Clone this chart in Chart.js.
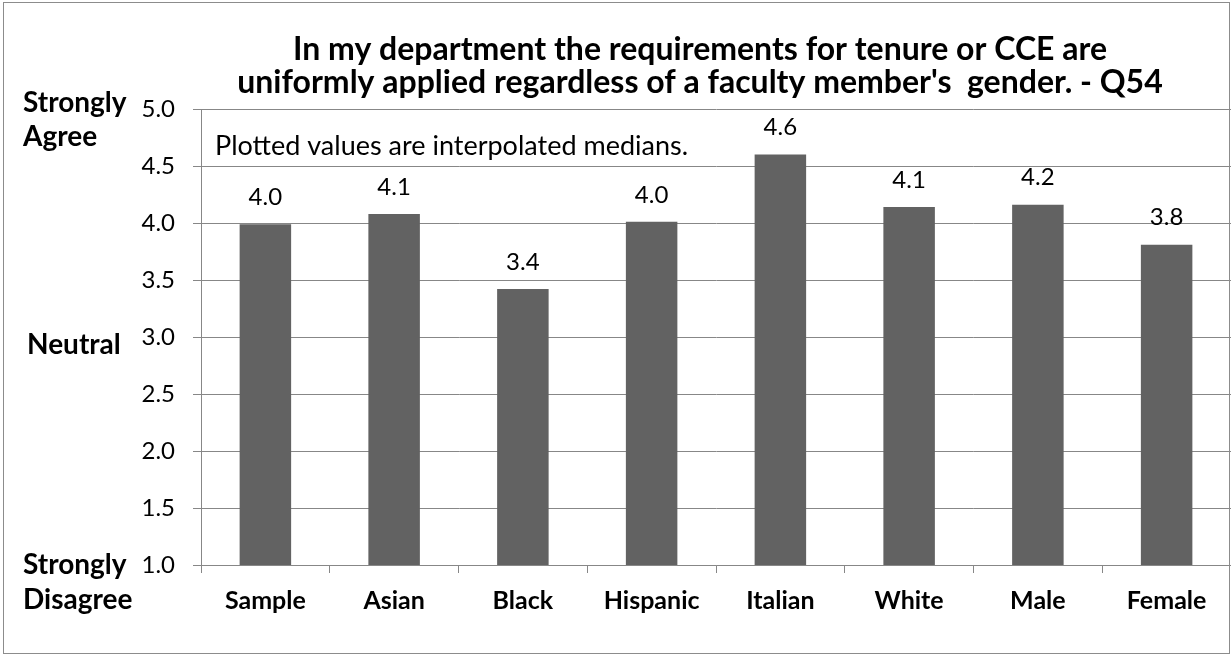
<!DOCTYPE html>
<html>
<head>
<meta charset="utf-8">
<script src="https://cdn.jsdelivr.net/npm/chart.js@4.4.1/dist/chart.umd.min.js"></script>
<style>
    html, body { margin: 0; padding: 0; background: #fff; }
    #wrap { position: relative; width: 1231px; height: 655px; }
    #frame { position: absolute; left: 3px; top: 2px; width: 1225px; height: 650px; border: 1px solid #8c8c8c; pointer-events: none; }
</style>
</head>
<body>
<div id="wrap">
    <canvas id="chart" width="1231" height="655"></canvas>
    <div id="frame"></div>
</div>
<script>
// chart data
const categories = ['Sample', 'Asian', 'Black', 'Hispanic', 'Italian', 'White', 'Male', 'Female'];
const medians = [3.99, 4.08, 3.42, 4.01, 4.60, 4.14, 4.16, 3.81];
const yTicks = [1.0, 1.5, 2.0, 2.5, 3.0, 3.5, 4.0, 4.5, 5.0];
const titleLines = ['In my department the requirements for tenure or CCE are',
                    "uniformly applied regardless of a faculty member's  gender. - Q54"];
const scaleNotes = [
    { value: 5, lines: ['Strongly', 'Agree'] },
    { value: 3, lines: ['Neutral'] },
    { value: 1, lines: ['Strongly', 'Disagree'] }
];
const note = 'Plotted values are interpolated medians.';

const FONT = 'Lato, "Open Sans", sans-serif';
const GRID = '#878787';

// title, side labels, value labels and note
const annotations = {
    id: 'annotations',
    afterDatasetsDraw(chart) {
        const ctx = chart.ctx;
        const area = chart.chartArea;
        const y = chart.scales.y;
        ctx.save();
        ctx.fillStyle = '#000';

        // title
        ctx.font = 'bold 32px ' + FONT;
        ctx.textAlign = 'center';
        ctx.textBaseline = 'middle';
        const cx = (area.left + area.right) / 2 - 16;
        ctx.fillText(titleLines[0], cx, 50);
        ctx.fillText(titleLines[1], cx, 83);

        // bar values
        ctx.font = '24px ' + FONT;
        const meta = chart.getDatasetMeta(0);
        meta.data.forEach((bar, i) => {
            ctx.fillText(medians[i].toFixed(1), bar.x, bar.y - 27);
        });

        // note
        ctx.textAlign = 'left';
        ctx.font = '27px ' + FONT;
        ctx.fillText(note, area.left + 14, area.top + 37);

        // agreement labels
        ctx.font = 'bold 28px ' + FONT;
        scaleNotes.forEach(n => {
            const py = y.getPixelForValue(n.value);
            if (n.lines.length === 1) {
                ctx.fillText(n.lines[0], 27, py + 8);
            } else if (n.value > 3) {
                ctx.fillText(n.lines[0], 23, py - 6);
                ctx.fillText(n.lines[1], 23, py + 28);
            } else {
                ctx.fillText(n.lines[0], 23, py);
                ctx.fillText(n.lines[1], 23, py + 35);
            }
        });
        ctx.restore();
    }
};

new Chart(document.getElementById('chart'), {
    type: 'bar',
    data: {
        labels: categories,
        datasets: [{
            data: medians,
            backgroundColor: '#626262',
            barPercentage: 0.4,
            categoryPercentage: 1.0
        }]
    },
    options: {
        responsive: false,
        animation: false,
        layout: { padding: { top: 109, left: 0, right: 0, bottom: 0 } },
        plugins: {
            legend: { display: false },
            title: { display: false },
            tooltip: { enabled: false }
        },
        scales: {
            x: {
                afterFit: scale => { scale.height = 90; },
                grid: { drawOnChartArea: false, drawTicks: true, tickLength: 8, color: GRID, offset: true },
                border: { display: true, color: GRID, width: 1 },
                ticks: { color: '#000', padding: 13, font: { family: FONT, size: 25, weight: 'bold' } }
            },
            y: {
                min: 1,
                max: 5,
                afterFit: scale => { scale.width = 201; },
                afterBuildTicks: scale => { scale.ticks = yTicks.map(v => ({ value: v })); },
                grid: { color: GRID, tickLength: 8 },
                border: { display: true, color: GRID, width: 1 },
                ticks: {
                    color: '#000',
                    padding: 18,
                    font: { family: FONT, size: 24 },
                    callback: v => Number(v).toFixed(1)
                }
            }
        }
    },
    plugins: [annotations]
});
</script>
</body>
</html>
